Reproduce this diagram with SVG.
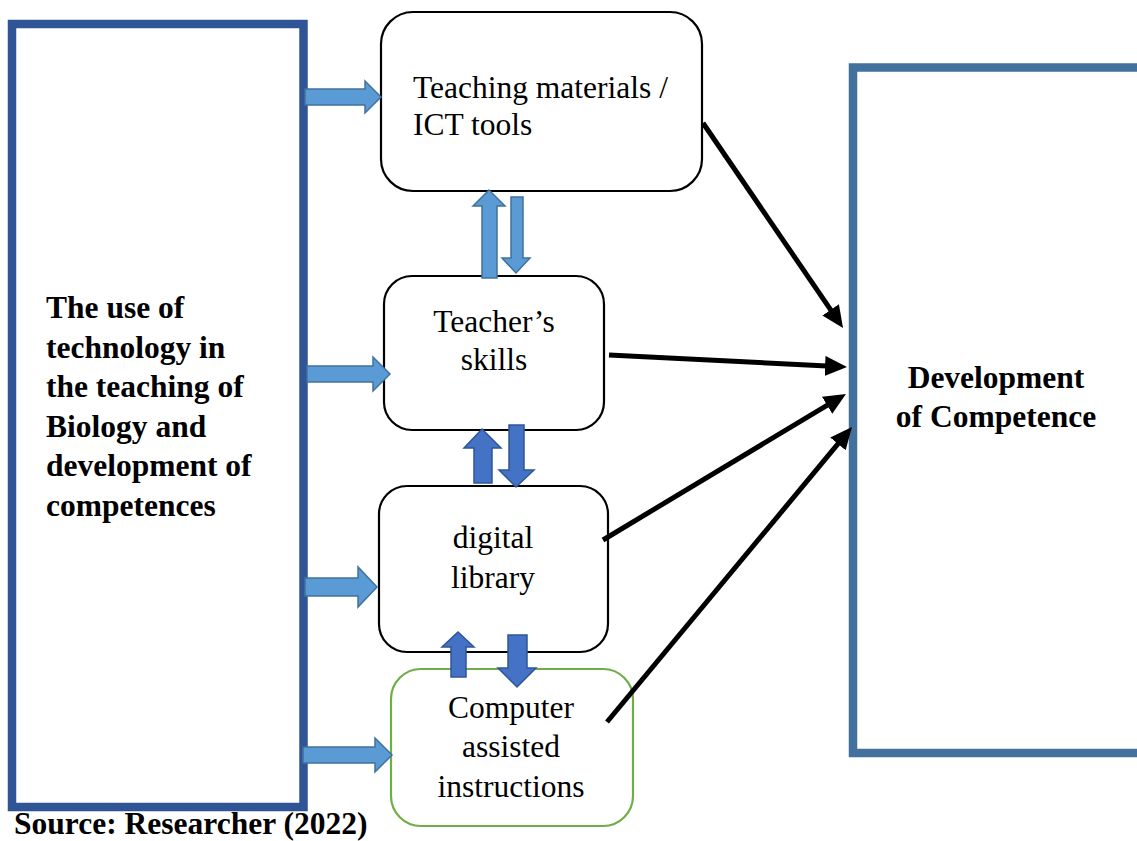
<svg xmlns="http://www.w3.org/2000/svg" width="1137" height="841" viewBox="0 0 1137 841">
<defs>
<style>
.box{fill:#fff;stroke:#000;stroke-width:2.2}
.green{fill:#fff;stroke:#70AD47;stroke-width:2.2}
.t{font-family:"Liberation Serif","Times New Roman",serif;font-size:31.5px;fill:#000}
.b{font-family:"Liberation Serif","Times New Roman",serif;font-size:31.5px;font-weight:bold;fill:#000}
.la{fill:#5B9BD5;stroke:#41719C;stroke-width:1.5}
.da{fill:#4472C4;stroke:#2F5597;stroke-width:1.5}
.con{stroke:#000;stroke-width:5;fill:none;marker-end:url(#ah)}
</style>
<marker id="ah" markerUnits="userSpaceOnUse" markerWidth="24" markerHeight="22" refX="12" refY="10" orient="auto">
<path d="M0,0 L22,10 L0,20 z" fill="#000"/>
</marker>
</defs>
<rect width="1137" height="841" fill="#fff"/>

<g id="left">
<rect x="12" y="24" width="291.5" height="783" fill="#fff" stroke="#2F5597" stroke-width="8.5"/>
<text class="b" x="46" y="318">The use of</text>
<text class="b" x="46" y="358">technology in</text>
<text class="b" x="46" y="397">the teaching of</text>
<text class="b" x="46" y="437">Biology and</text>
<text class="b" x="46" y="476">development of</text>
<text class="b" x="46" y="516">competences</text>
</g>

<g id="right">
<path d="M1145,67.5 L853,67.5 L853,753 L1145,753" fill="#fff" stroke="#41719C" stroke-width="8.5"/>
<text class="b" x="996" y="388" text-anchor="middle">Development</text>
<text class="b" x="996" y="427" text-anchor="middle">of Competence</text>
</g>

<g id="n1">
<rect class="box" x="381" y="12" width="321" height="179" rx="32"/>
<text class="t" x="413" y="98">Teaching materials /</text>
<text class="t" x="413" y="135">ICT tools</text>
</g>

<g id="n2">
<rect class="box" x="384" y="276" width="220" height="154" rx="28"/>
<text class="t" x="494" y="332" text-anchor="middle">Teacher’s</text>
<text class="t" x="494" y="370" text-anchor="middle">skills</text>
</g>

<g id="n3">
<rect class="box" x="379" y="486" width="229" height="166" rx="28"/>
<text class="t" x="493" y="548" text-anchor="middle">digital</text>
<text class="t" x="493" y="588" text-anchor="middle">library</text>
</g>

<g id="n4">
<rect class="green" x="391" y="669" width="242" height="157" rx="30"/>
<text class="t" x="511" y="718" text-anchor="middle">Computer</text>
<text class="t" x="511" y="757" text-anchor="middle">assisted</text>
<text class="t" x="511" y="797" text-anchor="middle">instructions</text>
</g>

<g id="connectors">
<polygon class="la" points="305,89 365,89 365,81 381,97 365,113 365,105 305,105"/>
<polygon class="la" points="307,366 373,366 373,357 390,374 373,391 373,382 307,382"/>
<polygon class="la" points="305,578 358,578 358,567 377,587 358,607 358,596 305,596"/>
<polygon class="la" points="303,747 375,747 375,738 392,755 375,772 375,763 303,763"/>

<polygon class="la" points="482,278 482,206 473,206 489,190 505,206 497,206 497,278"/>
<polygon class="la" points="511,197 523,197 523,258 530,258 516,273 502,258 511,258"/>

<polygon class="da" points="474,483 474,448 464,448 482,429 501,448 492,448 492,483"/>
<polygon class="da" points="509,425 524,425 524,470 534,470 516,487 499,470 509,470"/>

<polygon class="da" points="451,677 451,647 442,647 458,632 474,647 466,647 466,677"/>
<polygon class="da" points="508,635 527,635 527,668 536,668 517,687 498,668 508,668"/>

<line class="con" x1="703" y1="123" x2="837.4" y2="319.7"/>
<line class="con" x1="609" y1="355" x2="837" y2="366.5"/>
<line class="con" x1="603" y1="540" x2="837.4" y2="399.1"/>
<line class="con" x1="607" y1="722" x2="845.6" y2="434.7"/>
</g>

<text x="14" y="834" font-family="Liberation Serif, Times New Roman, serif" font-size="31.5" font-weight="bold">Source: Researcher (2022)</text>
</svg>
